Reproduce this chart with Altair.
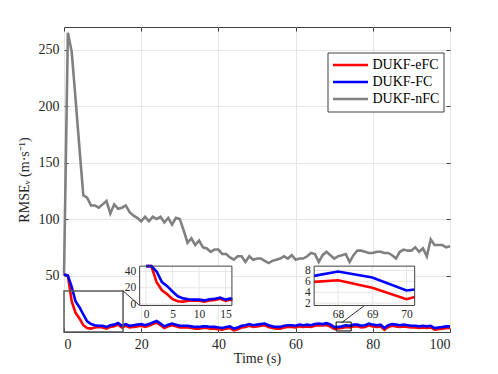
import altair as alt
import pandas as pd

# ---------------- data ----------------
time = list(range(101))

efc = [51, 50, 27, 17, 12, 6, 3.5, 3, 4, 4.5,
       4, 3, 4.5, 5, 6.5, 4, 5.5, 4, 4.5, 5,
       5.5, 4.5, 5.5, 7, 8.3, 6, 3.5, 5, 6, 5,
       4, 4, 4, 3.5, 3, 3, 3.5, 3.5, 3, 3,
       2.5, 2, 3, 3.5, 1.5, 2.5, 4, 4.5, 5.5, 4.5,
       5, 5.5, 6, 4.5, 3.5, 3, 3, 4, 4.5, 4.5,
       4, 5, 4.5, 5, 4.5, 5.5, 6, 5.9, 6.2, 4.8,
       2.7, 3.1, 3.5, 4.5, 4, 5, 5, 4, 4.5, 6,
       5, 4.5, 5, 2, 4.5, 5.5, 5, 4.5, 5, 4.5,
       4, 4, 3.5, 4, 3.5, 4, 2, 2.5, 3, 3.5, 3.5]

fc = [51, 50, 40, 27, 22, 15.5, 9.5, 7, 6, 5.5,
      5.5, 4.5, 6, 6.5, 8, 5.5, 7, 5.5, 6, 6.5,
      7, 6, 7, 8.5, 9.8, 7.5, 5, 6.5, 7.5, 6.5,
      5.5, 5.5, 5.5, 5, 4.5, 4.5, 5, 5, 4.5, 4.5,
      4, 3.5, 4.5, 5, 3, 4, 5.5, 6, 7, 6,
      6.5, 7, 7.5, 6, 5, 4.5, 4.5, 5.5, 6, 6,
      5.5, 6.5, 6, 6.5, 6, 7, 7.5, 7.0, 7.8, 6.7,
      4.3, 4.5, 5, 6, 5.5, 6.5, 6.5, 5.5, 6, 7.5,
      6.5, 6, 6.5, 3.5, 6, 7, 6.5, 6, 6.5, 6,
      5.5, 5.5, 5, 5.5, 5, 5.5, 3.5, 4, 4.5, 5, 5]

nfc = [50, 265, 248, 206, 163, 121, 119, 112, 112, 110,
       113, 116, 105, 113, 109, 110, 112, 106, 103, 101,
       98, 102, 98, 102, 100, 102, 97, 101, 95, 101,
       100, 90, 79, 83, 77, 81, 75, 74, 71, 73,
       73, 69, 69, 66, 64, 67, 67, 62, 67, 64,
       65, 65, 63, 61, 63, 64, 65, 67, 65, 68,
       64, 65, 65, 67, 70, 69, 62, 68, 71, 68,
       65, 67, 68, 69, 62, 68, 72, 72, 71, 70,
       70, 71, 71, 70, 70, 68, 65, 71, 73, 72,
       72, 75, 71, 74, 67, 82, 77, 77, 77, 75, 76]

series_names = ["DUKF-eFC", "DUKF-FC", "DUKF-nFC"]
series_colors = ["#ff0000", "#0000ff", "#808080"]

x_domain = [0, 100]
y_domain = [0, 270]
x_ticks = [0, 20, 40, 60, 80, 100]
y_ticks = [50, 100, 150, 200, 250]

# inset 1 (zoom of the start)
inset1_xdomain = [-1.2, 16.2]
inset1_ydomain = [-1.7, 46.6]
inset1_xticks = [0, 5, 10, 15]
inset1_yticks = [0, 20, 40]
inset1_trange = [0, 17]
inset1_box = [19.6, 43.5, 23.5, 58.3]      # placement in main data units
inset1_source = [0, 15.3, 0, 36.4]
inset1_link = [15.3, 36.4, 19.6, 23.5]

# inset 2 (zoom around 68-70)
inset2_xdomain = [67.3, 70.24]
inset2_ydomain = [1.55, 8.8]
inset2_xticks = [68, 69, 70]
inset2_yticks = [2, 4, 6, 8]
inset2_trange = [67, 71]
inset2_box = [64.8, 90.85, 23.5, 58.3]
inset2_source = [70.5, 74.4, 0.9, 8.8]
inset2_link = [72.2, 9.0, 77.9, 23.5]

# ---------------- layout ----------------
W, H = 386, 305
FONT = "Liberation Serif"
AXC = "#404040"
TXT = "#262626"
GRID = "#e6e6e6"


def px_x(v):
    return (v - x_domain[0]) / (x_domain[1] - x_domain[0]) * W


def px_y(v):
    return H - (v - y_domain[0]) / (y_domain[1] - y_domain[0]) * H


df = pd.DataFrame({
    "time": time * 3,
    "value": efc + fc + nfc,
    "series": [n for n in series_names for _ in time],
})

color_scale = alt.Scale(domain=series_names, range=series_colors)


def XS():
    return alt.Scale(domain=x_domain, nice=False, zero=False)


def YS():
    return alt.Scale(domain=y_domain, nice=False, zero=False)


x_axis = alt.Axis(values=x_ticks, grid=True, gridColor=GRID, ticks=False, tickSize=0,
                  domain=False, labelFont=FONT, labelFontSize=14, labelColor=TXT,
                  labelPadding=5, title="Time (s)", titleFont=FONT, titleFontSize=14,
                  titleFontWeight="normal", titleColor=TXT, titleX=W / 2, titleY=26,
                  titleBaseline="middle", titleAlign="center", orient="bottom")
y_axis = alt.Axis(values=y_ticks, grid=True, gridColor=GRID, ticks=False, tickSize=0,
                  domain=False, labelFont=FONT, labelFontSize=14, labelColor=TXT,
                  labelPadding=5, title="RMSEᵥ (m·s⁻¹)", titleFont=FONT, titleFontSize=14,
                  titleFontWeight="normal", titleColor=TXT, titleX=-40, titleY=H / 2,
                  titleAngle=-90, titleBaseline="middle", titleAlign="center", orient="left")


def main_line(name, with_axes):
    return alt.Chart(df).transform_filter(alt.datum.series == name).mark_line(
        strokeWidth=2.6).encode(
        x=alt.X("time:Q", scale=XS(), axis=x_axis if with_axes else None),
        y=alt.Y("value:Q", scale=YS(), axis=y_axis if with_axes else None),
        color=alt.Color("series:N", scale=color_scale, legend=alt.Legend(title=None)),
    )


def source_rect(b, color, width):
    d = pd.DataFrame({"x": [b[0]], "x2": [b[1]], "y": [b[2]], "y2": [b[3]]})
    return alt.Chart(d).mark_rect(fillOpacity=0, stroke=color, strokeWidth=width).encode(
        x=alt.X("x:Q", scale=XS(), axis=None), x2="x2",
        y=alt.Y("y:Q", scale=YS(), axis=None), y2="y2")


def link(l):
    d = pd.DataFrame({"x": [l[0]], "y": [l[1]], "x2": [l[2]], "y2": [l[3]]})
    return alt.Chart(d).mark_rule(color="black", strokeWidth=0.8).encode(
        x=alt.X("x:Q", scale=XS(), axis=None), x2="x2",
        y=alt.Y("y:Q", scale=YS(), axis=None), y2="y2")


def tick_layer(channel, orient):
    vals = x_ticks if channel == "x" else y_ticks
    d = pd.DataFrame({"v": vals})
    ax = alt.Axis(orient=orient, offset=-(H if channel == "x" else W), values=vals,
                  ticks=True, tickSize=4, tickColor=AXC, tickWidth=1, labels=False,
                  domain=False, grid=False, title=None)
    if channel == "x":
        enc = {"x": alt.X("v:Q", scale=XS(), axis=ax)}
    else:
        enc = {"y": alt.Y("v:Q", scale=YS(), axis=ax)}
    return alt.Chart(d).mark_point(opacity=0).encode(**enc)


def inset(xdom, ydom, xticks, yticks, trange, box):
    xr = [px_x(box[0]), px_x(box[1])]
    yr = [px_y(box[2]), px_y(box[3])]

    def sx():
        return alt.Scale(domain=xdom, range=xr, nice=False, zero=False, clamp=True)

    def sy():
        return alt.Scale(domain=ydom, range=yr, nice=False, zero=False, clamp=True)

    frame = pd.DataFrame({"x": [xdom[0]], "x2": [xdom[1]], "y": [ydom[0]], "y2": [ydom[1]]})
    ax_x = alt.Axis(orient="bottom", offset=-(H - yr[0]), values=xticks, ticks=False,
                    tickSize=0, domain=False, grid=False, labelFont=FONT, labelFontSize=11.5,
                    labelColor=TXT, labelPadding=3, labelOverlap=False, title=None, zindex=1)
    ax_y = alt.Axis(orient="left", offset=-xr[0], values=yticks, ticks=False,
                    tickSize=0, domain=False, grid=False, labelFont=FONT, labelFontSize=11.5,
                    labelColor=TXT, labelPadding=4, labelOverlap=False, title=None, zindex=1)
    bg = alt.Chart(frame).mark_rect(color="white").encode(
        x=alt.X("x:Q", scale=sx(), axis=ax_x), x2="x2",
        y=alt.Y("y:Q", scale=sy(), axis=ax_y), y2="y2")
    gx = alt.Chart(pd.DataFrame({"t": xticks, "lo": ydom[0], "hi": ydom[1]})).mark_rule(
        color=GRID, strokeWidth=1).encode(
        x=alt.X("t:Q", scale=sx(), axis=None),
        y=alt.Y("lo:Q", scale=sy(), axis=None), y2="hi")
    gy = alt.Chart(pd.DataFrame({"t": yticks, "lo": xdom[0], "hi": xdom[1]})).mark_rule(
        color=GRID, strokeWidth=1).encode(
        y=alt.Y("t:Q", scale=sy(), axis=None),
        x=alt.X("lo:Q", scale=sx(), axis=None), x2="hi")
    lines = []
    for name, col in [("DUKF-eFC", series_colors[0]), ("DUKF-FC", series_colors[1])]:
        lines.append(alt.Chart(df).transform_filter(
            (alt.datum.series == name) & (alt.datum.time >= trange[0]) & (alt.datum.time <= trange[1])
        ).mark_line(color=col, strokeWidth=2.6).encode(
            x=alt.X("time:Q", scale=sx(), axis=None),
            y=alt.Y("value:Q", scale=sy(), axis=None)))
    fr = alt.Chart(frame).mark_rect(fillOpacity=0, stroke=AXC, strokeWidth=1).encode(
        x=alt.X("x:Q", scale=sx(), axis=None), x2="x2",
        y=alt.Y("y:Q", scale=sy(), axis=None), y2="y2")
    return [bg, gx, gy] + lines + [fr]


layers = [
    main_line("DUKF-nFC", True),
    main_line("DUKF-eFC", False),
    main_line("DUKF-FC", False),
    source_rect(inset1_source, "#5a5a5a", 1.5),
    source_rect(inset2_source, "black", 1),
    link(inset1_link),
    link(inset2_link),
    tick_layer("x", "top"),
    tick_layer("x", "bottom"),
    tick_layer("y", "right"),
    tick_layer("y", "left"),
]
layers += inset(inset1_xdomain, inset1_ydomain, inset1_xticks, inset1_yticks, inset1_trange, inset1_box)
layers += inset(inset2_xdomain, inset2_ydomain, inset2_xticks, inset2_yticks, inset2_trange, inset2_box)

chart = alt.layer(*layers).resolve_scale(x="independent", y="independent").properties(
    width=W, height=H,
    autosize=alt.AutoSizeParams(type="none"),
    padding={"left": 56, "top": 19, "right": 40, "bottom": 34},
).configure_view(stroke=AXC, strokeWidth=1).configure_legend(
    orient="none", legendX=263.5, legendY=25.5, fillColor="white", strokeColor=AXC,
    padding=4, symbolType="stroke", symbolSize=1225, symbolStrokeWidth=2.6,
    labelFont=FONT, labelFontSize=14, labelColor="black", rowPadding=0, clipHeight=17,
    labelOffset=3,
)

chart.save("out.html", embed_options={"renderer": "svg", "actions": False})
